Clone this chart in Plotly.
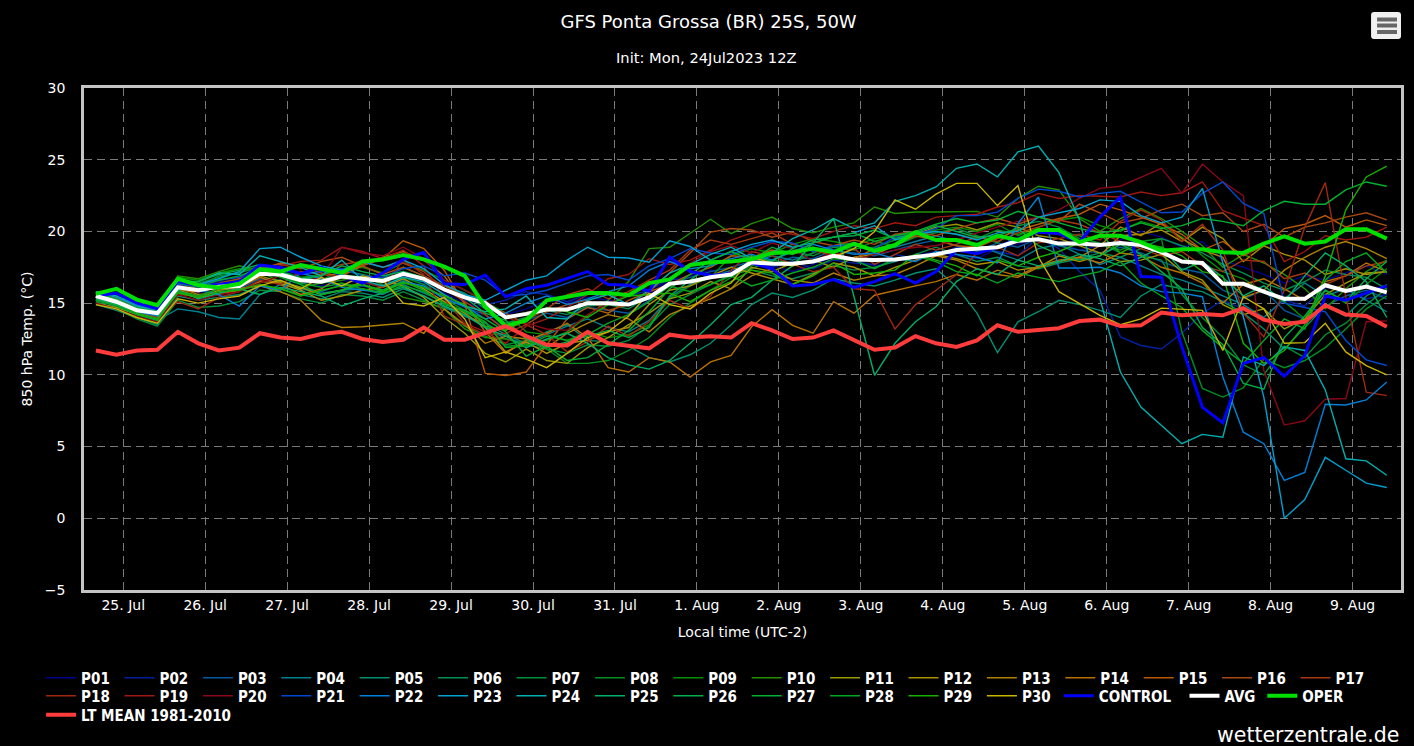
import pandas as pd
import plotly.graph_objects as go

# 6-hourly valid times, local time
times = pd.date_range('2023-07-24 16:00', periods=64, freq='6h')
day_ticks = pd.date_range('2023-07-25', periods=16, freq='D')
day_labels = ['25. Jul', '26. Jul', '27. Jul', '28. Jul', '29. Jul', '30. Jul', '31. Jul', '1. Aug',
              '2. Aug', '3. Aug', '4. Aug', '5. Aug', '6. Aug', '7. Aug', '8. Aug', '9. Aug']
temp_ticks = [-5, 0, 5, 10, 15, 20, 25, 30]

P01 = [15.3, 15.0, 14.4, 14.1, 16.0, 15.7, 16.2, 16.4, 17.2, 17.0, 16.5, 16.2, 16.6, 16.4, 16.2, 16.9,
       16.4, 15.7, 15.0, 14.7, 14.2, 14.6, 15.2, 15.0, 15.4, 15.2, 15.0, 15.7, 16.6, 16.9, 17.3, 17.1,
       17.9, 17.6, 17.2, 17.7, 18.2, 18.0, 17.6, 17.9, 18.3, 18.6, 18.3, 18.1, 18.8, 19.1, 19.6, 19.2,
       18.7, 19.0, 19.4, 20.0, 19.6, 18.9, 19.3, 18.0, 17.5, 17.0, 16.4, 16.9, 16.6, 17.1, 17.6, 17.0]
P02 = [15.6, 15.2, 14.6, 14.3, 16.2, 16.0, 16.5, 16.6, 17.4, 17.3, 16.8, 16.4, 16.9, 16.7, 16.4, 17.2,
       16.7, 15.9, 15.2, 14.9, 15.2, 15.8, 15.6, 15.1, 15.6, 15.8, 15.5, 15.9, 16.7, 16.5, 16.9, 17.2,
       17.7, 17.5, 17.9, 17.4, 18.0, 17.8, 17.7, 18.4, 18.1, 18.3, 18.9, 18.7, 18.6, 18.3, 19.6, 18.8,
       17.2, 15.9, 12.65, 12.05, 11.8, 12.9, 14.3, 15.2, 14.6, 14.0, 15.2, 14.8, 16.1, 15.9, 15.3, 15.6]
P03 = [15.2, 14.8, 14.3, 13.9, 15.8, 15.5, 15.9, 16.0, 16.7, 16.6, 16.1, 15.8, 16.3, 16.2, 15.9, 16.6,
       16.1, 15.4, 14.7, 14.2, 13.2, 13.8, 14.3, 14.0, 14.7, 14.5, 14.3, 15.2, 16.3, 16.8, 17.2, 17.5,
       17.9, 17.7, 18.2, 18.1, 18.7, 18.5, 18.3, 18.7, 19.1, 19.4, 19.0, 18.6, 19.2, 18.9, 19.5, 19.0,
       18.7, 18.5, 18.9, 18.5, 17.9, 17.4, 17.1, 15.9, 15.3, 15.9, 14.5, 13.9, 14.8, 15.5, 15.9, 15.3]
P04 = [15.0, 14.7, 14.2, 13.8, 14.6, 14.4, 14.0, 13.9, 15.6, 16.3, 16.0, 15.7, 15.9, 16.0, 15.6, 16.3,
       15.7, 15.1, 14.1, 13.4, 12.5, 12.2, 12.8, 13.4, 13.9, 13.3, 13.0, 13.8, 15.4, 16.3, 16.8, 17.3,
       17.8, 18.3, 18.0, 18.5, 19.0, 19.2, 18.7, 18.9, 19.3, 19.7, 19.3, 19.1, 18.5, 18.0, 18.8, 19.1,
       18.4, 17.7, 18.2, 17.6, 17.0, 16.6, 16.1, 15.5, 14.9, 14.0, 15.3, 16.4, 15.5, 16.0, 15.2, 14.4]
P05 = [14.9, 14.5, 14.0, 13.5, 15.5, 15.2, 15.4, 15.6, 16.2, 16.0, 15.6, 15.3, 15.8, 15.7, 15.4, 16.0,
       15.5, 14.7, 14.1, 13.6, 12.8, 12.2, 13.0, 13.5, 12.4, 12.3, 12.0, 11.2, 10.9, 11.4, 12.2, 13.5,
       14.9, 15.7, 15.4, 15.9, 16.7, 16.4, 16.2, 16.6, 17.1, 17.4, 16.15, 14.3, 11.55, 13.7, 14.4, 15.2,
       14.9, 14.5, 14.0, 15.5, 16.3, 16.0, 15.8, 15.1, 14.3, 13.2, 11.8, 13.3, 14.8, 14.1, 15.5, 16.3]
P06 = [15.5, 15.2, 14.5, 14.0, 16.4, 16.2, 16.9, 17.1, 17.6, 17.1, 16.8, 16.6, 17.3, 17.0, 16.7, 17.5,
       16.9, 16.2, 15.7, 14.6, 13.6, 14.0, 14.5, 14.2, 14.8, 14.9, 14.6, 15.5, 16.3, 16.6, 16.9, 17.0,
       17.3, 16.9, 16.7, 17.1, 17.6, 17.3, 17.5, 17.9, 18.4, 18.9, 18.4, 17.9, 18.2, 17.6, 17.4, 17.8,
       18.1, 18.5, 18.2, 18.8, 19.5, 19.0, 18.5, 17.7, 17.1, 16.4, 15.9, 16.5, 17.3, 17.0, 16.8, 16.0]
P07 = [15.1, 14.6, 13.9, 13.4, 15.2, 14.7, 14.8, 15.1, 15.9, 15.8, 15.3, 15.0, 15.6, 15.5, 15.2, 15.8,
       15.2, 14.6, 13.4, 12.7, 12.1, 12.4, 11.8, 11.5, 12.1, 12.0, 12.4, 13.4, 14.9, 15.6, 16.3, 17.0,
       17.4, 18.0, 18.6, 18.3, 18.9, 18.7, 19.3, 19.0, 19.6, 19.9, 20.2, 19.7, 19.2, 20.4, 20.7, 20.3,
       19.5, 19.2, 18.5, 18.3, 18.0, 15.6, 14.0, 12.6, 10.7, 10.0, 12.0, 11.2, 12.8, 13.6, 14.9, 16.0]
P08 = [15.6, 15.3, 14.7, 14.3, 16.6, 16.4, 16.8, 17.2, 17.4, 16.9, 16.5, 16.6, 17.0, 16.8, 16.5, 16.8,
       16.3, 15.3, 14.5, 13.7, 12.0, 12.1, 11.8, 10.8, 10.8, 11.0, 11.7, 12.6, 14.0, 15.0, 15.9, 16.8,
       17.6, 18.0, 17.8, 18.5, 19.0, 18.8, 18.9, 19.4, 19.8, 20.0, 19.8, 19.5, 20.1, 19.8, 20.2, 19.9,
       19.7, 19.1, 18.7, 19.3, 19.5, 13.0, 9.05, 8.45, 9.1, 11.1, 10.5, 11.0, 11.9, 13.2, 14.6, 15.5]
P09 = [15.4, 15.1, 14.5, 14.1, 16.8, 16.6, 17.1, 17.4, 17.3, 17.2, 16.8, 17.0, 17.3, 17.5, 17.1, 17.8,
       17.3, 16.6, 15.9, 15.1, 14.3, 13.0, 12.8, 12.4, 13.0, 12.6, 12.8, 13.5, 15.3, 16.2, 16.8, 18.3,
       18.8, 18.5, 19.1, 19.5, 19.3, 19.0, 19.5, 19.7, 19.9, 20.1, 20.3, 20.0, 20.5, 19.7, 20.3, 20.8,
       21.0, 20.4, 20.0, 20.7, 20.3, 19.6, 18.3, 17.2, 16.7, 15.8, 15.1, 13.9, 15.9, 15.0, 16.3, 17.4]
P10 = [15.6, 15.3, 14.8, 14.4, 16.9, 16.7, 17.2, 17.6, 17.2, 16.5, 16.1, 16.4, 16.6, 16.9, 16.3, 15.4,
       15.1, 14.6, 13.2, 12.6, 12.5, 12.1, 12.4, 13.0, 14.1, 15.2, 16.5, 18.8, 18.9, 19.85, 20.85, 19.85,
       20.55, 21.0, 20.2, 19.9, 20.3, 20.6, 21.7, 21.25, 21.35, 21.35, 21.4, 21.4, 21.0, 22.3, 23.15, 22.9,
       20.9, 20.0, 20.9, 21.6, 20.9, 20.0, 19.0, 17.5, 18.4, 17.8, 17.0, 16.0, 14.6, 16.0, 17.2, 18.0]
P11 = [15.0, 14.7, 14.2, 14.0, 15.9, 15.5, 15.9, 16.1, 16.9, 16.5, 16.1, 15.6, 15.9, 16.5, 16.6, 16.2,
       15.4, 14.0, 12.9, 11.5, 10.9, 11.8, 11.0, 10.8, 11.9, 12.6, 13.5, 14.3, 15.3, 15.7, 16.5, 16.0,
       17.5, 17.2, 17.8, 18.0, 17.5, 18.2, 18.4, 19.0, 19.8, 20.3, 20.5, 20.1, 20.6, 20.3, 19.7, 19.5,
       19.0, 18.5, 17.9, 18.0, 18.4, 17.2, 16.6, 14.9, 14.2, 14.6, 13.2, 13.9, 15.6, 16.4, 17.1, 17.2]
P12 = [15.2, 14.9, 14.4, 14.1, 15.7, 15.4, 15.6, 15.9, 16.5, 16.4, 15.9, 15.2, 15.5, 15.9, 16.1, 16.7,
       16.0, 15.1, 14.3, 13.3, 11.6, 12.3, 11.5, 12.2, 12.4, 13.0, 13.3, 14.9, 15.9, 16.2, 16.9, 17.5,
       17.1, 16.7, 16.3, 17.0, 17.8, 17.5, 16.9, 17.5, 18.0, 18.4, 18.1, 17.7, 17.9, 17.3, 17.5, 18.3,
       17.9, 18.3, 19.7, 19.8, 20.1, 19.3, 20.3, 19.5, 17.9, 19.0, 18.4, 18.0, 17.0, 17.4, 17.0, 17.2]
P13 = [15.3, 14.9, 14.5, 14.2, 16.1, 15.6, 15.7, 16.0, 16.2, 15.8, 15.2, 13.8, 13.3, 13.35, 13.45, 13.6,
       12.9, 14.6, 13.5, 12.2, 12.7, 12.5, 11.9, 12.9, 13.6, 14.2, 13.9, 13.0, 14.2, 14.8, 15.3, 16.0,
       16.9, 17.4, 16.6, 16.4, 17.1, 16.6, 16.9, 17.0, 17.6, 18.3, 18.0, 17.4, 17.0, 16.8, 17.5, 17.9,
       18.2, 19.0, 20.3, 19.7, 20.6, 19.5, 18.7, 18.2, 15.4, 15.9, 17.3, 18.2, 18.9, 19.3, 18.8, 18.1]
P14 = [15.4, 15.0, 14.5, 14.1, 15.9, 15.8, 16.1, 16.1, 16.8, 16.3, 15.6, 16.0, 16.9, 17.7, 18.2, 18.6,
       18.0, 16.9, 15.0, 13.0, 11.5, 12.4, 12.9, 13.6, 12.6, 10.5, 10.2, 11.2, 10.9, 9.85, 10.9, 11.35,
       13.35, 14.55, 13.45, 12.9, 15.1, 14.3, 15.55, 15.9, 16.2, 16.5, 17.0, 16.6, 17.3, 16.9, 17.6, 18.0,
       18.2, 17.8, 18.5, 18.3, 17.5, 17.1, 16.4, 15.0, 16.3, 16.7, 16.0, 15.2, 16.5, 16.9, 17.8, 17.2]
P15 = [15.5, 15.1, 14.5, 14.2, 16.2, 15.9, 16.3, 16.4, 17.3, 17.8, 17.6, 17.1, 16.9, 17.6, 18.1, 19.35,
       18.8, 17.3, 14.9, 10.1, 9.95, 10.2, 12.1, 13.9, 14.7, 14.3, 15.2, 15.8, 16.3, 17.0, 17.5, 18.3,
       18.2, 18.7, 18.4, 18.9, 18.3, 18.1, 18.8, 19.1, 19.7, 19.4, 19.0, 18.9, 19.5, 20.1, 20.5, 20.9,
       21.2, 21.9, 21.5, 21.0, 20.5, 19.8, 18.7, 19.3, 18.3, 19.0, 20.2, 20.5, 21.1, 20.3, 20.8, 20.4]
P16 = [15.7, 15.4, 14.7, 14.4, 16.4, 16.0, 16.4, 16.7, 17.5, 17.7, 17.4, 17.9, 18.2, 17.6, 17.0, 17.5,
       16.9, 16.2, 15.5, 14.9, 14.3, 13.5, 14.4, 14.9, 15.2, 14.5, 14.9, 15.8, 17.1, 18.5, 19.95, 20.2,
       20.1, 19.6, 19.95, 19.3, 19.0, 19.4, 19.1, 19.8, 20.0, 19.7, 20.2, 20.6, 20.9, 20.5, 21.0, 20.7,
       21.9, 21.3, 20.6, 20.9, 21.5, 21.9, 21.1, 21.3, 20.0, 20.5, 19.6, 20.3, 20.6, 21.0, 21.3, 20.8]
P17 = [15.6, 15.3, 14.6, 14.3, 16.3, 15.8, 16.2, 16.5, 17.1, 17.2, 17.6, 17.3, 17.7, 17.9, 17.5, 17.8,
       17.2, 16.0, 15.1, 14.2, 13.1, 13.8, 14.6, 15.6, 16.0, 15.3, 15.8, 16.6, 17.3, 18.7, 19.4, 19.1,
       19.5, 19.9, 19.1, 18.7, 18.3, 18.8, 17.7, 18.4, 19.1, 18.7, 19.1, 19.6, 19.3, 19.9, 20.3, 20.8,
       20.5, 19.9, 19.3, 18.8, 18.3, 18.6, 17.6, 17.2, 18.0, 17.9, 16.7, 17.1, 16.3, 16.9, 17.6, 17.9]
P18 = [15.4, 15.0, 14.4, 14.0, 15.1, 14.6, 15.4, 15.8, 16.6, 16.3, 17.2, 17.0, 16.8, 16.5, 16.1, 18.0,
       17.0, 14.1, 13.5, 12.8, 12.9, 13.5, 12.8, 11.6, 12.3, 13.4, 12.7, 13.7, 15.2, 14.6, 15.5, 17.3,
       18.6, 18.3, 17.7, 17.2, 17.5, 16.0, 15.9, 13.2, 14.9, 15.9, 17.0, 18.5, 18.9, 18.3, 19.2, 19.5,
       19.8, 19.4, 20.7, 21.5, 20.8, 19.3, 20.5, 18.7, 14.3, 12.65, 15.9, 20.3, 23.4, 15.45, 8.8, 8.55]
P19 = [15.7, 15.4, 14.8, 14.5, 15.6, 15.5, 16.0, 16.3, 17.0, 17.6, 17.9, 18.0, 18.9, 18.6, 18.1, 18.7,
       17.6, 15.3, 13.6, 13.0, 12.2, 13.4, 13.9, 14.7, 15.6, 16.7, 17.0, 18.1, 17.7, 18.0, 18.7, 19.4,
       19.9, 20.0, 19.8, 19.5, 20.0, 20.4, 20.2, 20.6, 20.4, 21.0, 21.1, 21.2, 21.7, 22.0, 22.65, 22.3,
       22.5, 22.45, 22.4, 22.75, 22.5, 22.7, 23.45, 21.45, 20.9, 20.4, 17.9, 18.6, 19.7, 19.4, 19.6, 20.3]
P20 = [15.0, 14.6, 14.1, 13.7, 15.6, 15.2, 15.6, 15.8, 16.4, 16.9, 16.5, 16.8, 18.9, 18.5, 18.3, 18.9,
       18.1, 16.6, 15.9, 15.2, 14.0, 13.6, 13.2, 13.1, 14.2, 15.0, 15.6, 16.5, 16.7, 17.8, 18.6, 19.0,
       18.5, 19.2, 18.8, 17.9, 18.6, 18.0, 18.4, 18.7, 18.9, 19.0, 19.4, 19.9, 20.3, 20.7, 21.0, 21.5,
       22.3, 23.0, 23.15, 23.8, 24.4, 22.65, 24.7, 23.45, 22.5, 10.3, 6.5, 6.8, 8.3, 8.35, 13.7, 13.75]
P21 = [15.5, 15.2, 14.6, 14.3, 16.3, 16.2, 16.6, 16.8, 17.6, 17.4, 17.0, 17.2, 17.4, 16.9, 16.8, 17.4,
       17.6, 16.9, 17.1, 16.6, 15.5, 15.6, 15.9, 16.4, 16.9, 17.0, 16.6, 17.6, 18.1, 18.8, 18.5, 18.4,
       18.9, 19.3, 19.2, 18.6, 19.0, 19.0, 18.8, 19.6, 19.8, 20.2, 21.1, 21.1, 21.35, 22.3, 22.95, 22.8,
       22.4, 22.65, 22.8, 22.05, 21.3, 21.35, 22.65, 23.45, 21.95, 21.25, 15.0, 14.7, 14.4, 12.4, 11.05, 10.65]
P22 = [15.4, 15.0, 14.4, 14.1, 16.0, 15.9, 15.6, 14.8, 16.2, 15.9, 17.1, 16.7, 16.1, 15.9, 15.8, 16.5,
       16.2, 15.3, 14.8, 13.9, 14.3, 15.0, 15.5, 14.9, 15.3, 15.8, 16.2, 17.3, 17.9, 17.4, 17.6, 18.1,
       18.4, 18.0, 18.6, 19.1, 18.7, 18.4, 18.5, 18.1, 17.9, 18.6, 18.4, 18.2, 17.8, 20.55, 22.4, 17.45,
       17.45, 17.5, 17.1, 16.2, 15.8, 15.7, 15.45, 9.85, 6.0, 5.2, 2.65, 3.2, 7.95, 7.9, 8.25, 9.5]
P23 = [15.8, 15.4, 14.8, 14.4, 16.6, 16.3, 16.7, 17.2, 18.8, 18.9, 18.2, 17.6, 17.3, 17.9, 17.5, 18.0,
       17.4, 16.3, 15.6, 15.2, 15.9, 16.6, 16.9, 18.0, 18.9, 18.2, 18.15, 17.85, 19.35, 18.95, 18.0, 18.6,
       19.1, 19.4, 18.9, 19.2, 19.6, 19.9, 20.4, 19.4, 19.8, 20.0, 19.8, 19.4, 19.9, 20.0, 21.0, 21.3,
       21.6, 22.2, 22.1, 21.1, 20.6, 21.0, 23.0, 17.8, 14.05, 8.45, 0.0, 1.3, 4.25, 3.35, 2.45, 2.15]
P24 = [15.8, 15.5, 14.9, 14.5, 16.5, 16.5, 17.1, 17.0, 18.3, 17.9, 17.5, 16.9, 18.0, 16.6, 16.2, 16.8,
       16.5, 15.6, 14.8, 14.4, 14.6, 15.5, 14.0, 13.9, 15.2, 15.6, 14.9, 15.9, 17.1, 17.7, 18.4, 18.9,
       18.1, 18.5, 19.5, 20.1, 20.9, 20.2, 20.6, 22.1, 22.5, 23.1, 24.4, 24.7, 23.8, 25.55, 25.95, 24.1,
       20.8, 15.3, 10.2, 7.75, 6.5, 5.2, 5.85, 5.65, 11.25, 10.65, 11.95, 11.7, 8.95, 4.15, 4.0, 3.0]
P25 = [15.3, 14.9, 14.3, 13.9, 15.9, 15.3, 15.7, 16.0, 15.6, 16.1, 15.8, 15.5, 14.8, 15.3, 15.7, 16.1,
       15.5, 14.8, 14.2, 13.3, 12.7, 11.9, 12.5, 12.9, 12.2, 11.2, 10.7, 10.4, 11.0, 12.2, 13.5, 14.9,
       15.4, 16.6, 17.6, 19.2, 20.9, 15.5, 9.97, 12.2, 13.7, 14.75, 16.5, 17.4, 17.0, 18.0, 17.6, 17.9,
       18.4, 18.1, 17.6, 18.2, 18.9, 17.3, 17.9, 16.8, 15.5, 16.2, 15.1, 16.9, 18.5, 17.6, 16.5, 14.0]
P26 = [15.6, 15.2, 14.7, 14.4, 16.6, 16.5, 17.0, 17.3, 17.7, 17.2, 16.7, 16.9, 17.6, 17.2, 16.9, 17.2,
       16.8, 15.9, 15.4, 14.3, 13.8, 12.5, 11.9, 12.3, 12.7, 13.1, 12.6, 13.3, 15.5, 16.6, 17.7, 17.9,
       18.3, 17.9, 18.8, 19.4, 19.6, 19.7, 20.1, 19.5, 19.9, 20.4, 20.0, 19.6, 19.7, 20.2, 19.0, 18.4,
       18.0, 18.3, 19.1, 18.4, 17.2, 16.0, 13.3, 12.1, 9.4, 9.0, 12.6, 14.1, 15.9, 15.1, 16.7, 17.9]
P27 = [15.7, 15.3, 14.6, 14.2, 16.4, 16.1, 16.6, 16.9, 17.4, 16.8, 16.3, 15.6, 15.9, 16.3, 15.9, 16.5,
       15.9, 14.9, 14.5, 13.9, 13.0, 11.3, 12.0, 11.0, 11.2, 12.1, 13.1, 14.4, 16.0, 17.0, 18.0, 18.6,
       18.0, 18.9, 18.4, 19.2, 19.6, 19.9, 19.3, 19.7, 20.0, 20.5, 20.9, 20.6, 20.8, 21.4, 21.0, 20.6,
       20.2, 19.9, 20.1, 20.6, 20.2, 20.4, 20.9, 20.7, 20.4, 21.45, 22.1, 21.9, 21.9, 22.9, 23.45, 23.15]
P28 = [15.2, 14.8, 14.2, 13.8, 15.8, 15.5, 16.0, 16.2, 17.0, 16.9, 16.4, 16.1, 16.4, 16.0, 15.7, 16.2,
       15.8, 15.0, 14.4, 13.7, 11.9, 12.0, 12.7, 12.4, 12.8, 13.6, 14.2, 15.1, 16.2, 15.8, 16.3, 16.9,
       16.2, 16.6, 17.1, 17.5, 18.1, 18.0, 17.4, 18.1, 18.3, 17.9, 17.2, 17.0, 16.4, 17.1, 16.8, 16.5,
       16.9, 17.2, 17.9, 16.4, 15.5, 14.7, 13.1, 11.9, 10.8, 12.4, 13.9, 13.2, 16.6, 17.9, 18.5, 17.1]
P29 = [15.5, 15.0, 14.3, 13.9, 15.7, 15.4, 15.8, 15.9, 16.3, 16.0, 15.5, 15.9, 16.2, 16.3, 15.8, 16.4,
       16.1, 15.5, 14.9, 13.4, 13.1, 14.0, 14.7, 14.4, 14.0, 14.9, 15.5, 15.6, 15.7, 15.1, 15.9, 16.5,
       17.3, 17.1, 16.3, 16.9, 17.8, 17.0, 17.1, 17.3, 18.4, 18.0, 17.6, 16.9, 18.0, 17.6, 18.2, 18.6,
       19.2, 19.8, 18.5, 19.2, 18.9, 18.3, 17.2, 16.9, 12.2, 10.8, 11.7, 13.5, 16.9, 21.5, 23.8, 24.55]
P30 = [14.9, 14.6, 14.0, 13.6, 15.3, 15.0, 15.3, 15.5, 16.2, 16.6, 16.0, 16.8, 16.2, 16.9, 16.6, 15.0,
       14.8, 15.4, 13.9, 11.2, 11.6, 11.1, 10.5, 11.5, 12.6, 13.0, 14.1, 15.7, 14.9, 14.6, 15.7, 16.4,
       18.2, 17.8, 17.6, 17.9, 18.2, 18.8, 20.0, 22.2, 21.55, 22.6, 23.35, 23.35, 21.8, 23.2, 18.2, 15.8,
       15.0, 14.15, 13.5, 13.9, 14.65, 14.55, 14.5, 11.7, 15.45, 14.6, 12.2, 12.25, 13.6, 11.6, 10.65, 10.0]
CONTROL = [15.5, 15.7, 15.0, 14.6, 16.5, 16.2, 16.3, 16.5, 17.65, 17.5, 17.05, 17.5, 16.95, 16.4, 17.1, 18.05,
           18.55, 16.35, 16.3, 16.95, 15.45, 16.0, 16.25, 16.7, 17.2, 16.3, 16.25, 15.85, 18.2, 17.2, 16.95, 17.05,
           17.8, 17.4, 16.2, 16.3, 16.65, 16.1, 16.5, 17.05, 16.4, 17.2, 18.7, 18.45, 18.9, 19.5, 19.95, 19.85,
           19.25, 21.0, 22.4, 16.85, 16.8, 11.95, 7.75, 6.65, 10.8, 11.2, 9.9, 11.35, 15.5, 15.2, 15.7, 16.2]
AVG = [15.5, 15.1, 14.5, 14.3, 16.1, 15.9, 16.15, 16.2, 17.05, 17.0, 16.6, 16.5, 16.85, 16.7, 16.55, 17.05,
       16.7, 15.95, 15.4, 15.0, 14.0, 14.25, 14.55, 14.55, 15.0, 15.0, 14.9, 15.4, 16.35, 16.5, 16.8, 17.0,
       17.85, 17.75, 17.75, 17.9, 18.3, 18.05, 18.0, 18.05, 18.2, 18.4, 18.7, 18.8, 18.9, 19.35, 19.45, 19.15,
       19.15, 19.05, 19.2, 19.05, 18.55, 17.9, 17.8, 16.35, 16.35, 15.8, 15.3, 15.3, 16.25, 15.85, 16.15, 15.75]
OPER = [15.65, 16.0, 15.25, 14.85, 16.7, 16.25, 16.1, 16.35, 17.35, 17.2, 17.65, 17.35, 17.1, 17.9, 18.05, 18.35,
        18.05, 17.55, 16.9, 14.75, 13.4, 13.8, 15.2, 15.45, 15.7, 15.7, 15.55, 16.4, 16.65, 17.65, 17.85, 17.9,
        18.05, 18.5, 18.55, 18.8, 18.55, 19.15, 18.65, 19.05, 19.95, 19.4, 19.4, 19.05, 19.7, 19.4, 20.1, 20.1,
        19.25, 19.7, 19.7, 19.25, 18.65, 18.75, 18.75, 18.55, 18.5, 19.15, 19.65, 19.15, 19.3, 20.15, 20.15, 19.5]
LT_MEAN = [11.7, 11.4, 11.7, 11.75, 13.0, 12.2, 11.7, 11.9, 12.9, 12.6, 12.5, 12.85, 13.0, 12.5, 12.3, 12.45,
           13.3, 12.45, 12.45, 12.9, 13.4, 12.7, 12.1, 12.05, 13.0, 12.2, 12.0, 11.85, 12.8, 12.6, 12.7, 12.6,
           13.6, 13.1, 12.5, 12.6, 13.1, 12.4, 11.75, 11.9, 12.7, 12.2, 11.95, 12.4, 13.46, 13.0, 13.1, 13.25,
           13.75, 13.85, 13.4, 13.45, 14.35, 14.15, 14.25, 14.15, 14.65, 13.85, 13.55, 13.7, 14.85, 14.2, 14.1, 13.35]

members = [P01, P02, P03, P04, P05, P06, P07, P08, P09, P10, P11, P12, P13, P14, P15,
           P16, P17, P18, P19, P20, P21, P22, P23, P24, P25, P26, P27, P28, P29, P30]
member_colors = ['#000090', '#0020a0', '#0058a0', '#008090', '#009070', '#009050', '#009038', '#009020',
                 '#009000', '#209000', '#989800', '#a89000', '#b08000', '#b87000', '#b85800', '#a84810',
                 '#a83810', '#a02810', '#a01810', '#880818', '#0048d0', '#0080d8', '#00a0d0', '#00b0b0',
                 '#00b068', '#00b048', '#00b030', '#00a820', '#18b000', '#c8b400']

W, H = 1414, 746
L, R, T, B = 84, 10, 88, 156

def px(x):
    return (x - L) / (W - L - R)

def py(y):
    return 1 - (y - T) / (H - T - B)

fig = go.Figure()
for i, values in enumerate(members):
    row = 'legend' if i < 17 else 'legend2'
    fig.add_trace(go.Scatter(x=times, y=values, mode='lines', name='P%02d' % (i + 1),
                             line=dict(color=member_colors[i], width=1.4), legend=row))
fig.add_trace(go.Scatter(x=times, y=CONTROL, mode='lines', name='CONTROL',
                         line=dict(color='#0000ff', width=3), legend='legend3'))
fig.add_trace(go.Scatter(x=times, y=AVG, mode='lines', name='AVG',
                         line=dict(color='#ffffff', width=4), legend='legend4'))
fig.add_trace(go.Scatter(x=times, y=OPER, mode='lines', name='OPER',
                         line=dict(color='#00e000', width=4), legend='legend6'))
fig.add_trace(go.Scatter(x=times, y=LT_MEAN, mode='lines', name='LT MEAN 1981-2010',
                         line=dict(color='#ff3c3c', width=4), legend='legend5'))

legend_font = dict(family='DejaVu Sans Condensed', size=15, color='white', weight='bold')

def legend_row(x, y, width=33.4):
    return dict(orientation='h', x=px(x), y=py(y), xanchor='left', yanchor='middle',
                entrywidth=width, entrywidthmode='pixels', font=legend_font,
                bgcolor='rgba(0,0,0,0)', borderwidth=0)

# export-menu button, top right
button = ('M %f %f L %f %f Q %f %f %f %f L %f %f Q %f %f %f %f L %f %f Q %f %f %f %f L %f %f Q %f %f %f %f Z' % (
    px(1377), py(12), px(1401), py(12), px(1404), py(12), px(1404), py(15),
    px(1404), py(36), px(1404), py(39), px(1401), py(39),
    px(1377), py(39), px(1374), py(39), px(1374), py(36),
    px(1374), py(15), px(1374), py(12), px(1377), py(12)))
shapes = [dict(type='path', path=button, xref='paper', yref='paper', fillcolor='#f0f0f0', line_width=0)]
for bar_y in [19.5, 25.5, 32]:
    shapes.append(dict(type='line', xref='paper', yref='paper', x0=px(1380), x1=px(1400),
                       y0=py(bar_y), y1=py(bar_y), line=dict(color='#666666', width=4)))

fig.update_layout(
    width=W, height=H,
    margin=dict(l=L, r=R, t=T, b=B),
    paper_bgcolor='black',
    plot_bgcolor='black',
    font=dict(family='DejaVu Sans', size=14, color='white'),
    title=dict(text='GFS Ponta Grossa (BR) 25S, 50W', font=dict(size=18, color='white'),
               x=px(710), xref='paper', xanchor='center', y=1 - 22 / H, yanchor='middle'),
    xaxis=dict(range=['2023-07-24 12:31', '2023-08-09 14:10'], tickvals=day_ticks, ticktext=day_labels,
               showgrid=True, gridcolor='#7a7a7a', griddash='8px,5px', gridwidth=1,
               showline=True, mirror=True, linecolor='#c4c4c4', linewidth=2.5, ticks='',
               title=dict(text='Local time (UTC-2)', standoff=16, font=dict(size=14)),
               zeroline=False, tickangle=0),
    yaxis=dict(range=[-5, 30], tickvals=temp_ticks, ticklabelstandoff=13,
               showgrid=True, gridcolor='#7a7a7a', griddash='8px,5px', gridwidth=1,
               showline=True, mirror=True, linecolor='#c4c4c4', linewidth=2.5, ticks='',
               title=dict(text='850 hPa Temp. (°C)', standoff=9, font=dict(size=14)), zeroline=False),
    legend=legend_row(41, 678),
    legend2=legend_row(41, 696),
    legend3=legend_row(1061, 696, 110),
    legend4=legend_row(1187, 696),
    legend5=legend_row(41, 715, 190),
    legend6=legend_row(1265, 696, 60),
    annotations=[
        dict(text='Init: Mon, 24Jul2023 12Z', xref='paper', yref='paper', x=px(708), y=py(57),
             yanchor='middle', showarrow=False, font=dict(size=14.7, color='white')),
        dict(text='wetterzentrale.de', xref='paper', yref='paper', x=px(1404), y=py(735),
             xanchor='right', yanchor='middle', showarrow=False, font=dict(size=20.5, color='white')),
    ],
    shapes=shapes,
)

fig.write_html('out.html', config={'displayModeBar': False},
               post_script="document.body.style.margin='0';document.body.style.background='black';")
